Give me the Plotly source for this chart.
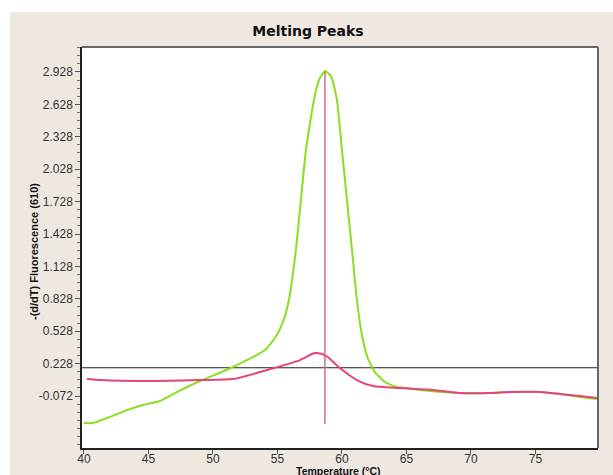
import plotly.graph_objects as go

# ---- data ----
green_temp = [40.0, 40.7, 42.0, 43.33, 44.57, 45.9, 47.2, 49.0, 51.55, 54.03, 54.81, 55.43, 55.89,
              56.43, 56.82, 57.21, 57.83, 58.22, 58.68, 59.15, 59.61, 60.0, 60.39, 60.78, 61.16,
              61.55, 62.0, 62.56, 63.33, 64.26, 65.0, 66.05, 69.15, 71.47, 73.0, 75.35, 76.9,
              78.45, 79.77]
green_val = [-0.322, -0.322, -0.266, -0.202, -0.155, -0.118, -0.035, 0.067, 0.197, 0.354, 0.465,
             0.613, 0.817, 1.28, 1.743, 2.206, 2.669, 2.854, 2.937, 2.891, 2.669, 2.206, 1.743,
             1.28, 0.817, 0.493, 0.28, 0.15, 0.058, 0.011, 0.002, -0.016, -0.044, -0.044,
             -0.035, -0.035, -0.053, -0.081, -0.1]

pink_temp = [40.23, 41.24, 45.1, 49.0, 51.55, 54.2, 56.74, 57.9, 58.45, 58.9, 59.84, 61.16,
             62.4, 64.5, 67.05, 69.15, 71.47, 73.0, 75.35, 76.9, 78.45, 79.77]
pink_val = [0.085, 0.076, 0.067, 0.076, 0.085, 0.169, 0.261, 0.326, 0.317, 0.289, 0.187, 0.076,
            0.021, 0.002, -0.016, -0.044, -0.044, -0.035, -0.035, -0.053, -0.072, -0.09]

threshold = 0.19
peak_temp = 58.68
peak_line_span = [-0.33, 2.93]

x_ticks = [40, 45, 50, 55, 60, 65, 70, 75]
y_ticks = [-0.072, 0.228, 0.528, 0.828, 1.128, 1.428, 1.728, 2.028, 2.328, 2.628, 2.928]
x_range = [39.85, 79.85]
y_range = [-0.553, 3.159]

# ---- figure ----
fig = go.Figure()
fig.add_trace(go.Scatter(x=x_range, y=[threshold, threshold], mode="lines",
                         line=dict(color="#222222", width=1.2), hoverinfo="skip"))
fig.add_trace(go.Scatter(x=green_temp, y=green_val, mode="lines",
                         line=dict(color="#86E01E", width=2, shape="spline", smoothing=0.5)))
fig.add_trace(go.Scatter(x=pink_temp, y=pink_val, mode="lines",
                         line=dict(color="#E5437C", width=2, shape="spline", smoothing=0.6)))
fig.add_trace(go.Scatter(x=[peak_temp, peak_temp], y=peak_line_span, mode="lines",
                         line=dict(color="#C8708A", width=1.5)))

W, H = 613, 475
L, R, T, B = 82, 15, 47, 27
pw, ph = W - L - R, H - T - B

def px_x(px):
    return (px - L) / pw

def px_y(py):
    return (H - B - py) / ph

fig.update_layout(
    width=W, height=H,
    margin=dict(l=L, r=R, t=T, b=B, pad=0, autoexpand=False),
    paper_bgcolor="#EEE8E0",
    plot_bgcolor="#FFFFFF",
    showlegend=False,
    font=dict(family="Liberation Sans, Arial, sans-serif", size=12, color="#333333"),
    title=dict(text="<b>Melting Peaks</b>", x=308 / W, xanchor="center",
               y=1 - 31 / H, yanchor="middle", yref="container",
               font=dict(family="DejaVu Sans, sans-serif", size=14, color="#111111")),
    xaxis=dict(range=x_range, tickvals=x_ticks, ticks="outside", ticklen=4, tickwidth=1,
               tickcolor="#555555", showgrid=False, zeroline=False, showline=True,
               linecolor="#222222", linewidth=1.5, automargin=False, ticklabelstandoff=-5,
               tickfont=dict(size=12, color="#333333")),
    yaxis=dict(range=y_range, tickvals=y_ticks, ticktext=[f"{v:.3f}" for v in y_ticks],
               ticks="outside", ticklen=5, tickwidth=1, tickcolor="#555555",
               showgrid=False, zeroline=False, showline=True, linecolor="#222222", linewidth=1.5,
               automargin=False,
               tickfont=dict(size=12, color="#333333"),
               minor=dict(tickmode="linear", tick0=-0.072, dtick=0.075, ticks="outside",
                          ticklen=3, tickcolor="#777777", showgrid=False)),
    shapes=[
        dict(type="rect", xref="paper", yref="paper", x0=px_x(0), x1=px_x(W), y0=px_y(12), y1=px_y(0),
             fillcolor="#FFFFFF", line=dict(width=0), layer="below"),
        dict(type="rect", xref="paper", yref="paper", x0=px_x(0), x1=px_x(10), y0=px_y(H), y1=px_y(0),
             fillcolor="#FFFFFF", line=dict(width=0), layer="below"),
        dict(type="line", xref="paper", yref="paper", x0=0, x1=1, y0=1, y1=1,
             line=dict(color="#666666", width=2)),
        dict(type="line", xref="paper", yref="paper", x0=1, x1=1, y0=0, y1=1,
             line=dict(color="#666666", width=2)),
    ],
    annotations=[
        dict(text="<b>Temperature (°C)</b>", xref="paper", yref="paper", x=px_x(338), y=px_y(463.5),
             xanchor="center", yanchor="top", showarrow=False, borderpad=0,
             font=dict(family="Liberation Sans, Arial, sans-serif", size=10.5, color="#111111")),
        dict(text="<b>-(d/dT) Fluorescence (610)</b>", xref="paper", yref="paper",
             x=px_x(34), y=px_y(252), xanchor="center", yanchor="middle", textangle=-90,
             showarrow=False,
             font=dict(family="Liberation Sans, Arial, sans-serif", size=11, color="#111111")),
    ],
)

fig.write_html("out.html")
